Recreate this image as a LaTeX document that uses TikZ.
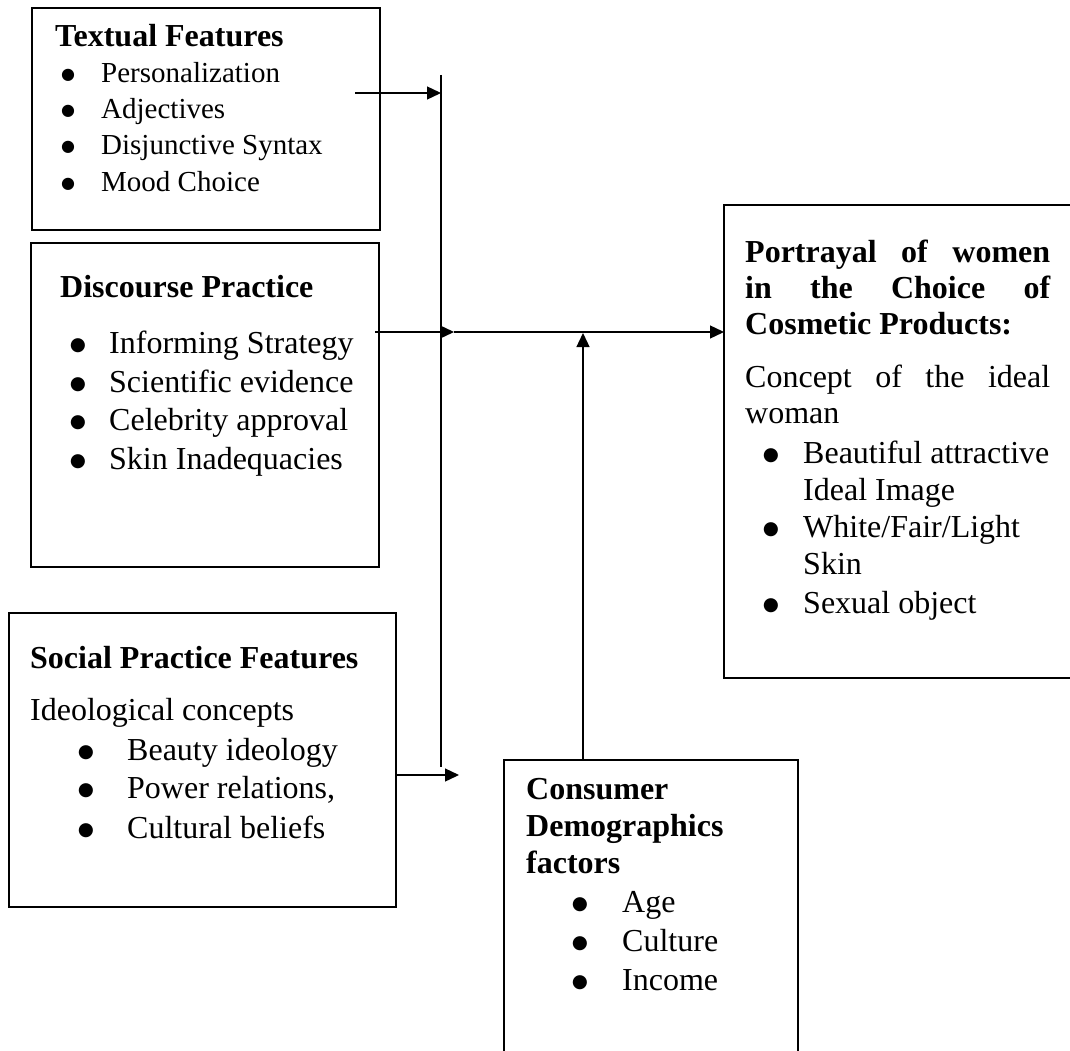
\documentclass[tikz,border=0pt]{standalone}
\usepackage{fontspec}
\setmainfont{Liberation Serif}
\newfontfamily\dejavu{DejaVu Sans}
\usetikzlibrary{arrows.meta}
\newcommand{\mybul}{{\dejavu ●}}
\tikzset{
  box/.style={draw, line width=1.3pt, anchor=north west, inner sep=0pt, outer sep=0pt},
  txt/.style={anchor=base west, inner sep=0pt, font=\fontsize{32}{38}\selectfont},
  hd/.style={anchor=base west, inner sep=0pt, font=\fontsize{32}{38}\selectfont\bfseries},
  sm/.style={anchor=base west, inner sep=0pt, font=\fontsize{29}{36}\selectfont},
  bul/.style={anchor=base, inner sep=0pt, yshift=3pt, font=\fontsize{18.5}{19}\selectfont},
  sbul/.style={anchor=base, inner sep=0pt, yshift=3pt, font=\fontsize{16}{16}\selectfont},
  conn/.style={line width=1.3pt},
  arr/.style={line width=1.3pt, -{Triangle[length=14pt,width=13pt]}}
}
\begin{document}
\begin{tikzpicture}[x=1pt,y=-1pt]
\useasboundingbox (0,0) rectangle (1070,1051);
\clip (0,0) rectangle (1070,1051);
% boxes
\node[box, minimum width=348pt, minimum height=222pt] (tf) at (32,8) {};
\node[box, minimum width=348pt, minimum height=324pt] (dp) at (31,243) {};
\node[box, minimum width=387pt, minimum height=294pt] (sp) at (9,613) {};
\node[box, minimum width=380pt, minimum height=473pt] (pw) at (724,205) {};
\node[box, minimum width=294pt, minimum height=330pt] (cd) at (504,760) {};
% Textual Features
\node[hd] (tfh) at (55,47) {Textual Features};
\node[sbul] (tfb1) at (68,83) {\mybul};
\node[sm] (tf1) at (101,83) {Personalization};
\node[sbul] (tfb2) at (68,119) {\mybul};
\node[sm] (tf2) at (101,119) {Adjectives};
\node[sbul] (tfb3) at (68,155) {\mybul};
\node[sm] (tf3) at (101,155) {Disjunctive Syntax};
\node[sbul] (tfb4) at (68,192) {\mybul};
\node[sm] (tf4) at (101,192) {Mood Choice};
% Discourse Practice
\node[hd] (dph) at (60,297) {Discourse Practice};
\node[bul] (dpb1) at (78,353) {\mybul};
\node[txt] (dp1) at (109,353) {Informing Strategy};
\node[bul] (dpb2) at (78,392) {\mybul};
\node[txt] (dp2) at (109,392) {Scientific evidence};
\node[bul] (dpb3) at (78,430) {\mybul};
\node[txt] (dp3) at (109,430) {Celebrity approval};
\node[bul] (dpb4) at (78,469) {\mybul};
\node[txt] (dp4) at (109,469) {Skin Inadequacies};
% Social Practice Features
\node[hd] (sph) at (30,668) {Social Practice Features};
\node[txt] (sp0) at (30,720) {Ideological concepts};
\node[bul] (spb1) at (86,760) {\mybul};
\node[txt] (sp1) at (127,760) {Beauty ideology};
\node[bul] (spb2) at (86,798) {\mybul};
\node[txt] (sp2) at (127,798) {Power relations,};
\node[bul] (spb3) at (86,838) {\mybul};
\node[txt] (sp3) at (127,838) {Cultural beliefs};
% Portrayal
\node[hd] (pwh1) at (745,262) {\makebox[305pt][s]{Portrayal of women}};
\node[hd] (pwh2) at (745,298) {\makebox[305pt][s]{in the Choice of}};
\node[hd] (pwh3) at (745,334) {Cosmetic Products:};
\node[txt] (pw0) at (745,387) {\makebox[305pt][s]{Concept of the ideal}};
\node[txt] (pw0b) at (745,423) {woman};
\node[bul] (pwb1) at (771,463) {\mybul};
\node[txt] (pw1) at (803,463) {Beautiful attractive};
\node[txt] (pw1b) at (803,500) {Ideal Image};
\node[bul] (pwb2) at (771,537) {\mybul};
\node[txt] (pw2) at (803,537) {White/Fair/Light};
\node[txt] (pw2b) at (803,574) {Skin};
\node[bul] (pwb3) at (771,613) {\mybul};
\node[txt] (pw3) at (803,613) {Sexual object};
% Consumer Demographics
\node[hd] (cdh1) at (526,799) {Consumer};
\node[hd] (cdh2) at (526,836) {Demographics};
\node[hd] (cdh3) at (526,873) {factors};
\node[bul] (cdb1) at (580,912) {\mybul};
\node[txt] (cd1) at (622,912) {Age};
\node[bul] (cdb2) at (580,951) {\mybul};
\node[txt] (cd2) at (622,951) {Culture};
\node[bul] (cdb3) at (580,990) {\mybul};
\node[txt] (cd3) at (622,990) {Income};
% connector coordinates
\coordinate (vtop) at (441,75);
\coordinate (vbot) at (441,767);
\coordinate (ta) at (355,93);
\coordinate (tb) at (441,93);
\coordinate (da) at (375,332);
\coordinate (dj) at (454,332);
\coordinate (ca) at (583,760);
\coordinate (cb) at (583,333);
\coordinate (sa) at (396,775);
\coordinate (sb) at (459,775);
% connectors
\draw[conn] (vtop) -- (vbot);
\draw[arr] (ta) -- (tb);
\draw[arr] (da) -- (dj);
\draw[arr] (dj) -- (pw.west |- dj);
\draw[arr] (ca) -- (cb);
\draw[arr] (sa) -- (sb);
\end{tikzpicture}
\end{document}
